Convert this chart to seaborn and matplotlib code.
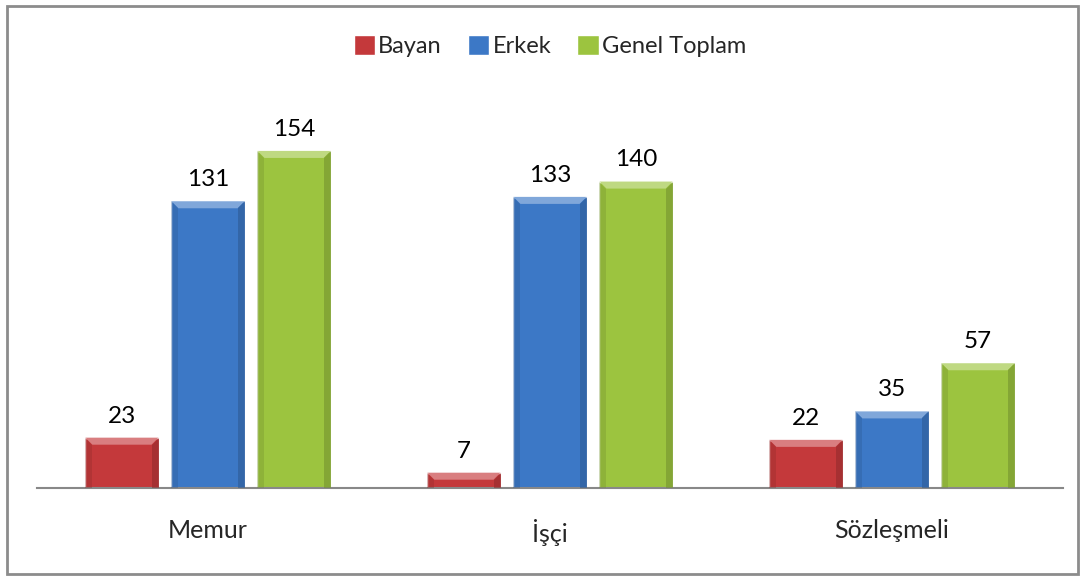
import matplotlib
matplotlib.use("Agg")
import matplotlib.pyplot as plt
import matplotlib.colors as mcolors
from matplotlib.patches import Polygon, Rectangle
import pandas as pd
import seaborn as sns

categories = ["Memur", "İşçi", "Sözleşmeli"]
series = ["Bayan", "Erkek", "Genel Toplam"]
bayan = [23, 7, 22]
erkek = [131, 133, 35]
genel_toplam = [154, 140, 57]

colors = ["#C4393B", "#3C78C6", "#9CC43F"]

df = pd.DataFrame({
    "Kategori": categories * 3,
    "Seri": [s for s in series for _ in categories],
    "Deger": bayan + erkek + genel_toplam,
})

sns.set_style("white")
plt.rcParams["font.family"] = ["Lato", "DejaVu Sans"]

fig = plt.figure(figsize=(10.85, 5.77), dpi=100)
ax = fig.add_axes([37 / 1085, 89 / 577, 1026 / 1085, 394 / 577])

sns.barplot(data=df, x="Kategori", y="Deger", hue="Seri", order=categories,
            hue_order=series, palette=colors, width=0.755, gap=0.15,
            saturation=1, legend=True, ax=ax)

ax.set_ylim(0, 180)
ax.set_xlim(-0.5, 2.5)

# bevel effect on bars
px_x = 1.0 / 342
px_y = 1.0 / 2.18
b = 7
for container, col in zip(ax.containers, colors):
    light = mcolors.to_rgb(col)
    light = tuple(min(1, c + (1 - c) * 0.35) for c in light)
    dark = tuple(c * 0.75 for c in mcolors.to_rgb(col))
    for p in container.patches:
        x0, w, h = p.get_x(), p.get_width(), p.get_height()
        x1 = x0 + w
        bx, by = b * px_x, min(b * px_y, h / 2)
        ax.add_patch(Polygon([(x0, h), (x1, h), (x1 - bx, h - by), (x0 + bx, h - by)],
                             closed=True, color=light, lw=0, zorder=3))
        ax.add_patch(Polygon([(x1, h), (x1, 0), (x1 - bx, 0), (x1 - bx, h - by)],
                             closed=True, color=dark, lw=0, zorder=3, alpha=0.6))
        ax.add_patch(Polygon([(x0, h), (x0, 0), (x0 + bx, 0), (x0 + bx, h - by)],
                             closed=True, color=dark, lw=0, zorder=3, alpha=0.35))
    ax.bar_label(container, padding=8, fontsize=17.5, color="black")

for s in ["top", "right", "left"]:
    ax.spines[s].set_visible(False)
ax.spines["bottom"].set_color("#888888")
ax.spines["bottom"].set_linewidth(1.5)
ax.set_yticks([])
ax.set_xlabel("")
ax.set_ylabel("")
ax.tick_params(axis="x", length=0, labelsize=18, pad=22)

handles, labels = ax.get_legend_handles_labels()
ax.legend(handles, labels, loc="center", bbox_to_anchor=(0.5, (488 - 46) / 394),
          ncol=3, frameon=False, fontsize=17, handlelength=0.9, handleheight=0.9,
          handletextpad=0.15, columnspacing=1.1, bbox_transform=ax.transAxes)

# chart border
fig.patches.append(Rectangle((7 / 1085, 3 / 577), 1071 / 1085, 568 / 577,
                             transform=fig.transFigure, fill=False,
                             edgecolor="#8C8C8C", linewidth=2.0))

fig.savefig("out.png", dpi=100)
